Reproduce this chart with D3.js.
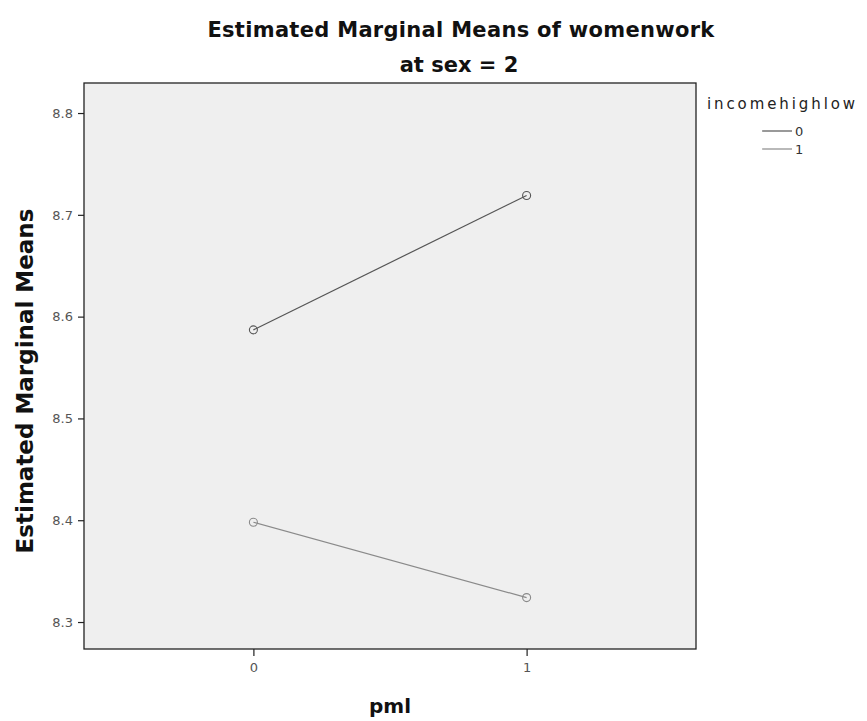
<!DOCTYPE html>
<html><head><meta charset="utf-8">
<script src="https://cdn.jsdelivr.net/npm/d3@7"></script>
<style>body{margin:0;background:#fff;} svg{display:block;}</style>
</head><body>
<svg id="chart" width="867" height="721"></svg>
<script>
const categories = [0, 1];
const seriesNames = ["0", "1"];
const series0 = [8.587, 8.719];
const series1 = [8.398, 8.324];
const yTicks = [8.3, 8.4, 8.5, 8.6, 8.7, 8.8];
const seriesColors = ["#555", "#8a8a8a"];

const svg = d3.select("#chart");
const m = {left: 84, right: 696, top: 83, bottom: 649};
const x = d3.scaleLinear().domain([-0.62, 1.62]).range([m.left, m.right]);
const y = d3.scaleLinear().domain([8.2735, 8.8295]).range([m.bottom, m.top]);

svg.append("rect").attr("x", m.left).attr("y", m.top)
  .attr("width", m.right - m.left).attr("height", m.bottom - m.top)
  .attr("fill", "#efefef").attr("stroke", "#222").attr("stroke-width", 1.3);

const yAxis = svg.append("g").attr("transform", `translate(${m.left},0)`)
  .call(d3.axisLeft(y).tickValues(yTicks).tickSize(6).tickSizeOuter(0).tickFormat(d3.format(".1f")));
const xAxis = svg.append("g").attr("transform", `translate(0,${m.bottom})`)
  .call(d3.axisBottom(x).tickValues(categories).tickSize(7).tickSizeOuter(0).tickFormat(d3.format("d")));
[yAxis, xAxis].forEach(a => {
  a.select(".domain").remove();
  a.selectAll(".tick line").attr("stroke", "#222").attr("stroke-width", 1.2);
  a.selectAll(".tick text").attr("fill", "#555").style("font-family", "DejaVu Sans").style("font-size", "13px");
});
yAxis.selectAll(".tick text").attr("x", -11);
xAxis.selectAll(".tick text").attr("y", 14);

const data = [series0, series1];
const line = d3.line().x((d, i) => x(categories[i])).y(d => y(d));
data.forEach((s, k) => {
  svg.append("path").datum(s).attr("d", line).attr("fill", "none")
    .attr("stroke", seriesColors[k]).attr("stroke-width", 1.2);
  svg.selectAll(null).data(s).enter().append("circle")
    .attr("cx", (d, i) => x(categories[i])).attr("cy", d => y(d)).attr("r", 4)
    .attr("fill", "none").attr("stroke", seriesColors[k]).attr("stroke-width", 1.1);
});

const bold = sel => sel.style("font-family", "DejaVu Sans").style("font-weight", "bold").attr("fill", "#111");
svg.append("text").attr("x", 461).attr("y", 37).attr("text-anchor", "middle")
  .call(bold).style("font-size", "21px").style("letter-spacing", "0.3px").text("Estimated Marginal Means of womenwork");
svg.append("text").attr("x", 459).attr("y", 72).attr("text-anchor", "middle")
  .call(bold).style("font-size", "21px").text("at sex = 2");
svg.append("text").attr("transform", `translate(33,381) rotate(-90)`)
  .attr("text-anchor", "middle")
  .call(bold).style("font-size", "23px").text("Estimated Marginal Means");
svg.append("text").attr("x", 390).attr("y", 713).attr("text-anchor", "middle")
  .call(bold).style("font-size", "20px").text("pml");

svg.append("text").attr("x", 707).attr("y", 109)
  .style("font-family", "DejaVu Sans").style("font-size", "15px").style("letter-spacing", "2.9px")
  .attr("fill", "#222").text("incomehighlow");
seriesNames.forEach((n, k) => {
  const yy = 131 + k * 18;
  svg.append("line").attr("x1", 762).attr("x2", 792).attr("y1", yy).attr("y2", yy)
    .attr("stroke", seriesColors[k]).attr("stroke-width", 1.2);
  svg.append("text").attr("x", 795).attr("y", yy + 5)
    .style("font-family", "DejaVu Sans").style("font-size", "13px").attr("fill", "#333").text(n);
});
</script>
</body></html>
